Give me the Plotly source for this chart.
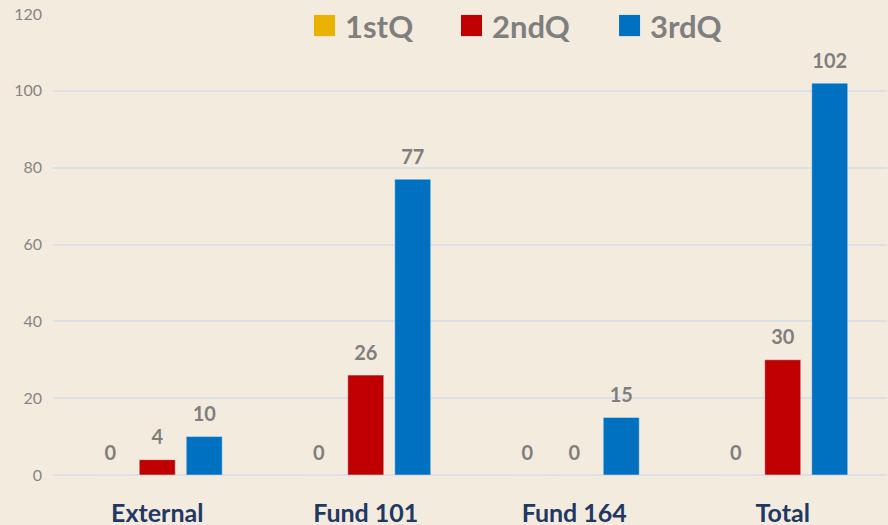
import plotly.graph_objects as go

categories = ["External", "Fund 101", "Fund 164", "Total"]
series_names = ["1stQ", "2ndQ", "3rdQ"]
q1 = [0, 0, 0, 0]
q2 = [4, 26, 0, 30]
q3 = [10, 77, 15, 102]
colors = ["#EAB200", "#C00000", "#0070C0"]
y_ticks = [0, 20, 40, 60, 80, 100, 120]

# legend layout (paper coordinates)
legend_sq_x = [0.3129, 0.4892, 0.6787]
legend_sq_w = 0.0252
legend_y_top, legend_y_bot = 0.998, 0.952
legend_text_gap = 0.010

fig = go.Figure()
for i, (name, vals, col) in enumerate(zip(series_names, [q1, q2, q3], colors)):
    fig.add_trace(go.Bar(
        x=categories, y=vals, name=name, marker_color=col,
        offsetgroup=str(i), showlegend=False,
    ))
for i, (name, vals) in enumerate(zip(series_names, [q1, q2, q3])):
    fig.add_trace(go.Scatter(
        x=categories, y=vals, name=name, mode="markers+text",
        offsetgroup=str(i), marker=dict(size=15, opacity=0),
        text=[str(v) for v in vals], textposition="top center",
        textfont=dict(family="Lato", size=20, color="#7F7F7F", weight="bold"),
        cliponaxis=False, showlegend=False, hoverinfo="skip",
    ))

for name, col, sx in zip(series_names, colors, legend_sq_x):
    fig.add_shape(type="rect", xref="paper", yref="paper",
                  x0=sx, x1=sx + legend_sq_w, y0=legend_y_bot, y1=legend_y_top,
                  fillcolor=col, line=dict(width=0), layer="above")
    fig.add_annotation(xref="paper", yref="paper", x=sx + legend_sq_w + legend_text_gap,
                       y=(legend_y_top + legend_y_bot) / 2, xanchor="left", yanchor="middle",
                       text=name, showarrow=False,
                       font=dict(family="Lato", size=31, color="#7F7F7F", weight="bold"))

fig.update_layout(
    width=888, height=525,
    margin=dict(l=53, r=1, t=14, b=50),
    paper_bgcolor="#F3ECDE", plot_bgcolor="rgba(0,0,0,0)",
    barmode="group", bargap=0.324, bargroupgap=0.234,
    scattermode="group", scattergap=0.324,
    showlegend=False,
    xaxis=dict(tickfont=dict(family="Lato", size=25, color="#1F3864", weight="bold"),
               showgrid=False, ticks="", ticklen=0, showline=False, automargin=False,
               ticklabelstandoff=21),
    yaxis=dict(range=[0, 120], tickvals=y_ticks, showgrid=True, gridcolor="#DCDFE4",
               gridwidth=1.5, zeroline=True, zerolinecolor="#DCDFE4", zerolinewidth=1.5,
               tickfont=dict(family="Lato", size=16, color="#858585"), ticks="",
               ticklabelstandoff=10, automargin=False),
)
fig.write_html("out.html", config={"displayModeBar": False},
               post_script="document.body.style.margin='0';document.body.style.background='#F3ECDE';")
